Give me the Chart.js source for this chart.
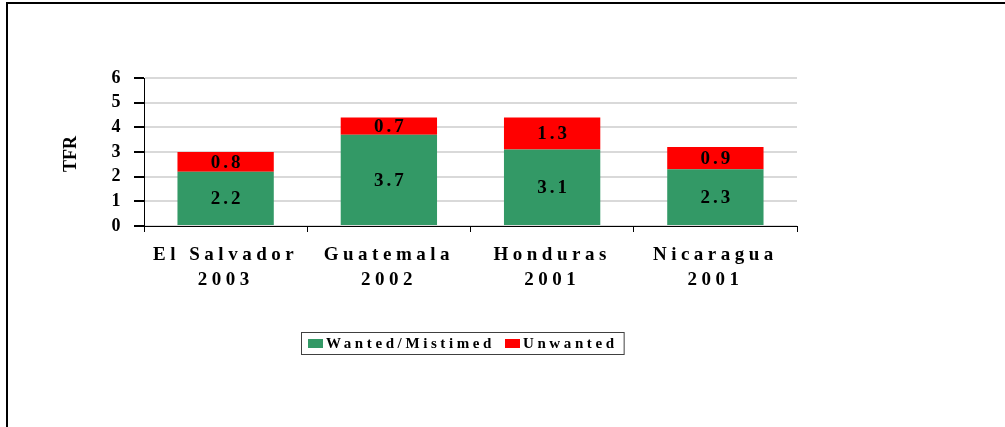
<!DOCTYPE html>
<html>
<head>
<meta charset="utf-8">
<script src="https://cdn.jsdelivr.net/npm/chart.js@4"></script>
<style>
  html, body { margin: 0; padding: 0; background: #fff; }
  #wrap { position: relative; width: 1005px; height: 427px; }
  #frameTop { position: absolute; left: 6px; top: 2px; width: 999px; height: 2px; background: #000; }
  #frameLeft { position: absolute; left: 6px; top: 2px; width: 2px; height: 425px; background: #000; }
</style>
</head>
<body>
<div id="wrap">
  <canvas id="tfrChart" width="1005" height="427"></canvas>
  <div id="frameTop"></div>
  <div id="frameLeft"></div>
</div>
<script>
// categories (country + survey year, two lines each)
const countries = [
    ['El Salvador', '2003'],
    ['Guatemala', '2002'],
    ['Honduras', '2001'],
    ['Nicaragua', '2001'],
];
const wantedTFR = [2.2, 3.7, 3.1, 2.3];
const unwantedTFR = [0.8, 0.7, 1.3, 0.9];
const seriesNames = ['Wanted/Mistimed', 'Unwanted'];
const seriesColors = ['#339966', '#FF0000'];
const yTicks = [0, 1, 2, 3, 4, 5, 6];
const yTitle = 'TFR';

const serif = "'Liberation Serif', 'Times New Roman', serif";

// spaced-out lettering like the original export
const spacingPlugin = {
    id: 'spacing',
    beforeUpdate(chart) { chart.ctx.letterSpacing = '4.5px'; },
    beforeDraw(chart) { chart.ctx.letterSpacing = '4.5px'; },
};

// values centred in each stacked segment
const segmentLabels = {
    id: 'segmentLabels',
    afterDatasetsDraw(chart) {
        const ctx = chart.ctx;
        ctx.save();
        ctx.letterSpacing = '3px';
        ctx.font = 'bold 19px ' + serif;
        ctx.fillStyle = '#000';
        ctx.textAlign = 'center';
        ctx.textBaseline = 'middle';
        chart.data.datasets.forEach((ds, i) => {
            chart.getDatasetMeta(i).data.forEach((bar, j) => {
                const y = (bar.y + bar.base) / 2;
                ctx.fillText(ds.data[j].toFixed(1), bar.x + 1.5, y + 1);
            });
        });
        ctx.restore();
    }
};

// y title and boxed legend
const extras = {
    id: 'extras',
    afterDraw(chart) {
        const ctx = chart.ctx;
        const area = chart.chartArea;
        ctx.save();
        ctx.letterSpacing = '0px';
        ctx.font = 'bold 18px ' + serif;
        ctx.fillStyle = '#000';
        ctx.textAlign = 'center';
        ctx.textBaseline = 'middle';
        ctx.translate(71, (area.top + area.bottom) / 2 + 2);
        ctx.rotate(-Math.PI / 2);
        ctx.fillText(yTitle, 0, 0);
        ctx.restore();

        ctx.save();
        ctx.font = 'bold 15px ' + serif;
        ctx.letterSpacing = '3.6px';
        ctx.textBaseline = 'middle';
        ctx.textAlign = 'left';
        const boxLeft = 301, boxTop = 332, boxH = 22;
        let x = boxLeft + 7;
        const midY = boxTop + boxH / 2;
        chart.data.datasets.forEach((ds, i) => {
            ctx.fillStyle = ds.backgroundColor;
            ctx.fillRect(x, midY - 4, 15, 9);
            x += 18;
            ctx.fillStyle = '#000';
            ctx.fillText(ds.label, x, midY + 1);
            x += ctx.measureText(ds.label).width + 10;
        });
        ctx.strokeStyle = '#404040';
        ctx.lineWidth = 1;
        ctx.strokeRect(boxLeft + 0.5, boxTop + 0.5, x - boxLeft - 4, boxH);
        ctx.restore();
    }
};

new Chart(document.getElementById('tfrChart'), {
    type: 'bar',
    data: {
        labels: countries,
        datasets: [
            { label: seriesNames[0], data: wantedTFR, backgroundColor: seriesColors[0] },
            { label: seriesNames[1], data: unwantedTFR, backgroundColor: seriesColors[1] },
        ]
    },
    options: {
        responsive: false,
        animation: false,
        events: [],
        layout: { padding: { left: 0, top: 78, right: 208, bottom: 141 } },
        datasets: { bar: { barPercentage: 0.59, categoryPercentage: 1 } },
        plugins: {
            legend: { display: false },
            title: { display: false },
            tooltip: { enabled: false }
        },
        scales: {
            x: {
                stacked: true,
                afterFit(s) { s.height = 60; s.paddingLeft = 0; s.paddingRight = 0; },
                border: { color: '#000', width: 1 },
                grid: { drawOnChartArea: false, color: '#000', tickLength: 6, offset: true },
                ticks: {
                    color: '#000',
                    maxRotation: 0,
                    padding: 10,
                    font: { family: serif, size: 19, weight: 'bold', lineHeight: 1.35 }
                }
            },
            y: {
                stacked: true,
                min: yTicks[0],
                max: yTicks[yTicks.length - 1],
                afterFit(s) { s.width = 144; s.paddingTop = 0; s.paddingBottom = 0; },
                afterBuildTicks(s) { s.ticks = yTicks.map(v => ({ value: v })); },
                border: { color: '#000', width: 1 },
                grid: { color: '#d9d9d9', lineWidth: 2, tickColor: '#000', tickLength: 10 },
                ticks: {
                    color: '#000',
                    padding: 9,
                    font: { family: serif, size: 18, weight: 'bold' }
                }
            }
        }
    },
    plugins: [spacingPlugin, segmentLabels, extras]
});
</script>
</body>
</html>
